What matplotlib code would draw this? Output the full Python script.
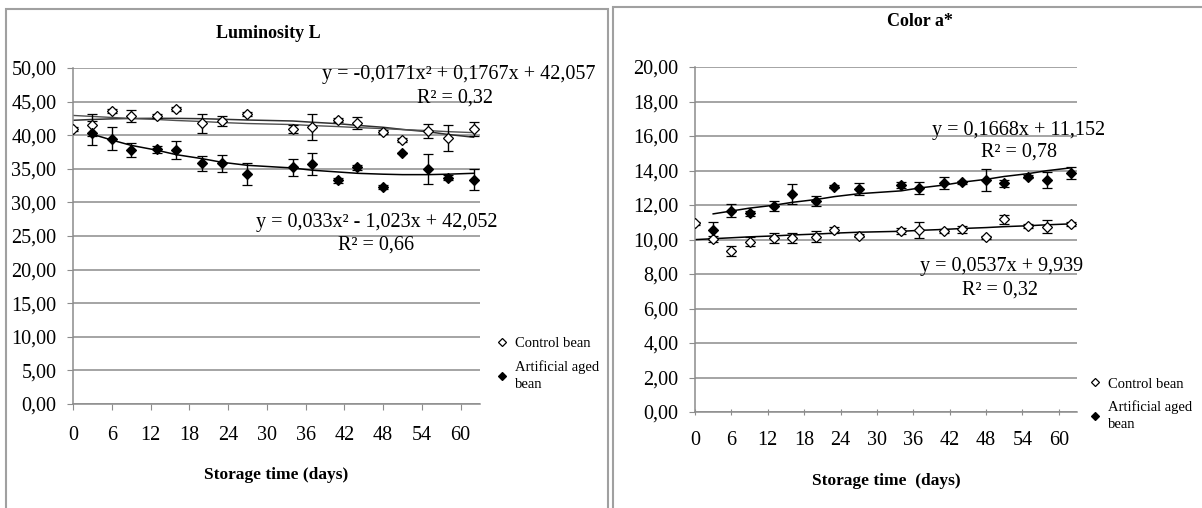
import numpy as np
import matplotlib
matplotlib.use('Agg')
import matplotlib.pyplot as plt
from matplotlib.patches import Rectangle
from matplotlib.lines import Line2D

plt.rcParams['font.family'] = ['Liberation Serif', 'DejaVu Serif']

# storage days (x positions of the points)
days = [0, 3, 6, 9, 13, 16, 20, 23, 27, 34, 37, 41, 44, 48, 51, 55, 58, 62]
days_aged = days[1:]

# Luminosity L
L_control = [40.9, 41.5, 43.6, 42.9, 42.9, 43.9, 41.8, 42.1, 43.2, 40.9,
             41.2, 42.3, 41.8, 40.5, 39.3, 40.6, 39.6, 40.9]
L_control_err = [0.3, 1.6, 0.3, 0.9, 0.3, 0.3, 1.4, 0.8, 0.3, 0.6,
                 1.9, 0.3, 0.9, 0.3, 0.3, 1.0, 1.9, 1.0]
L_aged = [40.3, 39.5, 37.8, 37.9, 37.8, 35.8, 35.8, 34.2, 35.2, 35.7,
          33.3, 35.2, 32.3, 37.4, 35.0, 33.7, 33.4]
L_aged_err = [1.8, 1.7, 1.1, 0.5, 1.4, 1.1, 1.3, 1.6, 1.2, 1.6,
              0.4, 0.4, 0.3, 0.0, 2.2, 0.4, 1.5]

# Color a*
a_control = [10.94, 10.03, 9.35, 9.87, 10.07, 10.07, 10.16, 10.55, 10.22, 10.49,
             10.55, 10.49, 10.59, 10.13, 11.17, 10.78, 10.74, 10.90]
a_control_err = [0.08, 0.2, 0.29, 0.27, 0.3, 0.3, 0.33, 0.2, 0.1, 0.2,
                 0.48, 0.1, 0.2, 0.1, 0.25, 0.1, 0.39, 0.12]
a_aged = [10.55, 11.67, 11.52, 11.94, 12.64, 12.25, 13.06, 12.91, 13.16, 12.97,
          13.26, 13.32, 13.45, 13.26, 13.64, 13.45, 13.84]
a_aged_err = [0.48, 0.39, 0.15, 0.29, 0.58, 0.29, 0.1, 0.34, 0.15, 0.36,
              0.34, 0.1, 0.62, 0.2, 0.1, 0.45, 0.34]

# Excel trendline coefficients (x = point index 1..18)
L_control_coef = [-0.0171, 0.1767, 42.057]
L_aged_coef = [0.033, -1.023, 42.052]
a_control_coef = [0.0537, 9.939]
a_aged_coef = [0.1668, 11.152]

W, H = 1202, 508
fig = plt.figure(figsize=(W / 100, H / 100), dpi=100)
fig.patch.set_facecolor('white')

# panel frames
fig.patches.append(Rectangle((6 / W, -0.05), 602 / W, 1.05 - 9 / H, transform=fig.transFigure,
                             fill=False, edgecolor='#a0a0a0', lw=1.5))
fig.patches.append(Rectangle((613 / W, -0.05), 0.6, 1.05 - 7 / H, transform=fig.transFigure,
                             fill=False, edgecolor='#a0a0a0', lw=1.5))

grid_c = '#8c8c8c'
eq_size = 14.5


def setup(ax, ymax, ystep, tickdir, xlabel):
    ax.set_xlim(0, 63)
    ax.set_ylim(0, ymax)
    ax.set_xticks(range(0, 61, 6))
    ax.set_yticks(np.arange(0, ymax + 0.01, ystep))
    ax.set_yticklabels([('%.2f' % v).replace('.', ',') for v in np.arange(0, ymax + 0.01, ystep)])
    ax.yaxis.grid(True, color=grid_c, lw=1.1)
    ax.set_axisbelow(True)
    for s in ['top', 'right']:
        ax.spines[s].set_visible(False)
    for s in ['left', 'bottom']:
        ax.spines[s].set_color(grid_c)
        ax.spines[s].set_linewidth(1.1)
    ax.tick_params(axis='both', colors=grid_c, labelcolor='black', labelsize=14.5, length=4)
    ax.tick_params(axis='x', direction=tickdir, pad=12)
    ax.tick_params(axis='y', direction='out', pad=8)
    ax.set_xlabel(xlabel, fontsize=12.5, fontweight='bold', labelpad=16)


def series(ax, x, y, err, filled):
    ax.errorbar(x, y, yerr=err, fmt='D', ms=5.5, mfc='black' if filled else 'white',
                mec='black', mew=0.9, ecolor='black', elinewidth=1, capsize=3.5, capthick=1, zorder=3)


idx = np.arange(1, len(days) + 1)

# ---------- Luminosity L ----------
ax1 = fig.add_axes([73 / W, 1 - 404 / H, (480 - 73) / W, (404 - 68) / H])
setup(ax1, 50, 5, 'out', 'Storage time (days)')
fig.text(268 / W, 1 - 33 / H, 'Luminosity L', ha='center', va='center', fontsize=13, fontweight='bold')

ax1.plot(days, np.polyval(L_control_coef, idx), color='#303030', lw=1.1, zorder=2)
ax1.plot(days, np.polyval(np.polyfit(idx, L_control, 1), idx), color='#505050', lw=1.0, zorder=2)
ax1.plot(days_aged, np.polyval(L_aged_coef, idx[1:]), color='black', lw=1.1, zorder=2)
series(ax1, days, L_control, L_control_err, False)
series(ax1, days_aged, L_aged, L_aged_err, True)

ax1.text(322 / W, 1 - 75 / H, 'y = -0,0171x² + 0,1767x + 42,057', transform=fig.transFigure,
         ha='left', va='center', fontsize=eq_size)
ax1.text(455 / W, 1 - 98 / H, 'R² = 0,32', transform=fig.transFigure,
         ha='center', va='center', fontsize=eq_size)
ax1.text(497 / W, 1 - 222 / H, 'y = 0,033x² - 1,023x + 42,052', transform=fig.transFigure,
         ha='right', va='center', fontsize=eq_size)
ax1.text(376 / W, 1 - 245 / H, 'R² = 0,66', transform=fig.transFigure,
         ha='center', va='center', fontsize=eq_size)

# ---------- Color a* ----------
ax2 = fig.add_axes([695 / W, 1 - 412 / H, (1077 - 695) / W, (412 - 67) / H])
setup(ax2, 20, 2, 'inout', 'Storage time  (days)')
fig.text(887 / W, 1 - 22 / H, 'Color a*', ha='left', va='center', fontsize=13, fontweight='bold')

ax2.plot(days, np.polyval(a_control_coef, idx), color='black', lw=1.1, zorder=2)
ax2.plot(days_aged, np.polyval(a_aged_coef, idx[1:]), color='black', lw=1.1, zorder=2)
series(ax2, days, a_control, a_control_err, False)
series(ax2, days_aged, a_aged, a_aged_err, True)

ax2.text(1105 / W, 1 - 130 / H, 'y = 0,1668x + 11,152', transform=fig.transFigure,
         ha='right', va='center', fontsize=eq_size)
ax2.text(1019 / W, 1 - 152 / H, 'R² = 0,78', transform=fig.transFigure,
         ha='center', va='center', fontsize=eq_size)
ax2.text(1083 / W, 1 - 267 / H, 'y = 0,0537x + 9,939', transform=fig.transFigure,
         ha='right', va='center', fontsize=eq_size)
ax2.text(1000 / W, 1 - 290 / H, 'R² = 0,32', transform=fig.transFigure,
         ha='center', va='center', fontsize=eq_size)

# legends
handles = [Line2D([], [], ls='none', marker='D', ms=4, mfc='white', mec='black', mew=0.9),
           Line2D([], [], ls='none', marker='D', ms=4, mfc='black', mec='black', mew=0.9)]
labels = ['Control bean', 'Artificial aged\nbean']
for x0, y0 in [(489, 330), (1082, 370)]:
    leg = fig.legend(handles, labels, loc='upper left', bbox_to_anchor=(x0 / W, 1 - y0 / H),
                     frameon=False, fontsize=10.5, handlelength=0.8, handletextpad=0.5,
                     labelspacing=0.7, borderpad=0)
    for t in leg.get_texts():
        t.set_linespacing(1.35)

fig.savefig('out.png', dpi=100)
